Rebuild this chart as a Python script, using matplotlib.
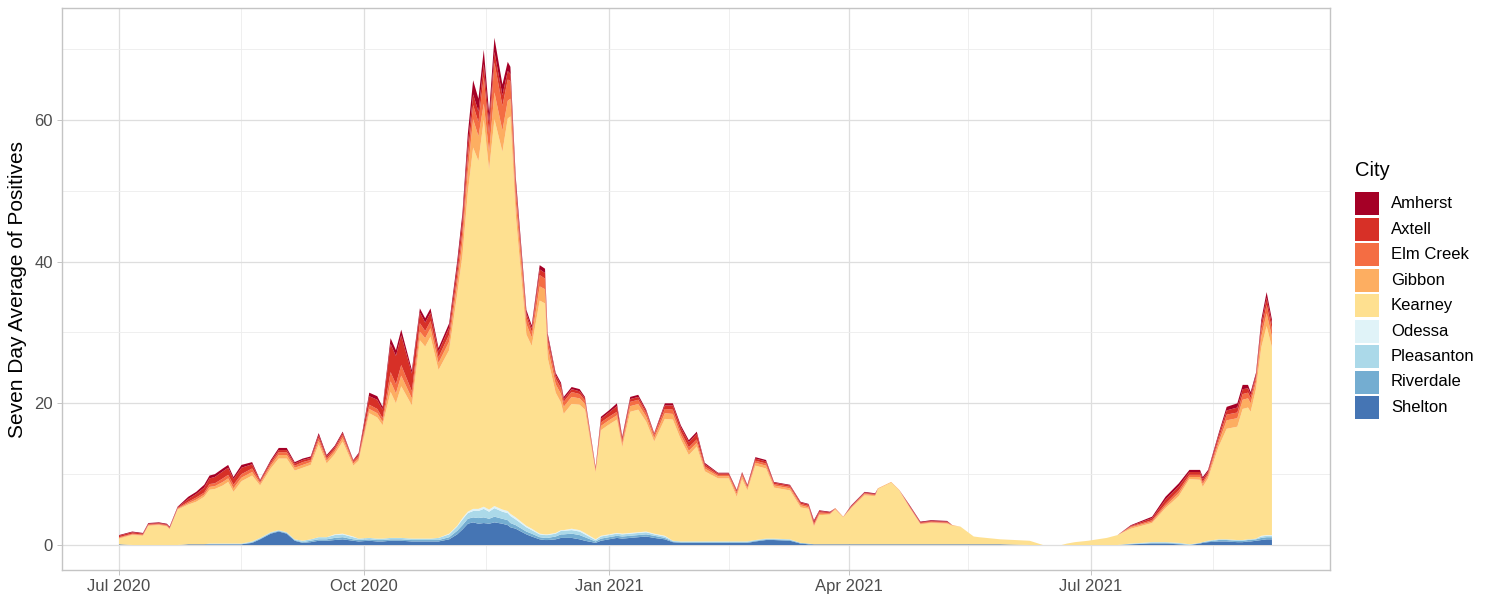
import numpy as np
import pandas as pd
import matplotlib
matplotlib.use("Agg")
import matplotlib.pyplot as plt
import matplotlib.dates as mdates
from matplotlib.patches import Rectangle

plt.rcParams['font.family'] = ['Liberation Sans', 'DejaVu Sans']

# days since 2020-07-01 at which the seven day averages were read
day = [0, 5, 9, 11, 15, 18, 19, 22, 26, 29,
       32, 34, 36, 39, 41, 43, 46, 50, 53, 57,
       60, 63, 66, 69, 72, 75, 78, 81, 84, 88,
       90, 94, 97, 99, 102, 104, 106, 110, 113, 115,
       117, 120, 124, 127, 129, 131, 133, 135, 137, 139,
       141, 144, 146, 147, 149, 153, 155, 158, 160, 161,
       164, 166, 167, 170, 173, 175, 179, 181, 184, 187,
       189, 192, 195, 198, 201, 205, 208, 211, 214, 217,
       220, 225, 229, 232, 234, 236, 239, 243, 246, 252,
       256, 259, 261, 263, 267, 269, 272, 275, 280, 284,
       285, 290, 293, 297, 301, 305, 311, 313, 316, 321,
       323, 331, 342, 347, 354, 356, 359, 364, 371, 375,
       380, 388, 393, 398, 402, 406, 407, 409, 413, 416,
       420, 422, 424, 425, 427, 429, 431, 433]

amherst = [0.1, 0.1, 0.1, 0.1, 0.1, 0.1, 0.1, 0.1, 0.3, 0.3,
           0.4, 0.4, 0.4, 0.4, 0.4, 0.3, 0.4, 0.3, 0.1, 0.2,
           0.3, 0.3, 0.2, 0.2, 0.2, 0.3, 0.2, 0.2, 0.2, 0.1,
           0.2, 0.5, 0.5, 0.4, 0.8, 0.8, 0.8, 0.5, 0.6, 0.6,
           0.6, 0.5, 0.6, 0.8, 1.0, 1.5, 2.0, 1.8, 2.0, 1.5,
           2.0, 1.5, 1.3, 1.0, 0.8, 0.5, 0.4, 0.6, 0.6, 0.4,
           0.3, 0.3, 0.3, 0.3, 0.3, 0.2, 0.1, 0.3, 0.3, 0.4,
           0.2, 0.3, 0.3, 0.2, 0.1, 0.3, 0.3, 0.3, 0.3, 0.3,
           0.2, 0.1, 0.1, 0.1, 0.1, 0.1, 0.2, 0.2, 0.1, 0.1,
           0.1, 0.1, 0.2, 0.1, 0.1, 0, 0, 0.1, 0.1, 0.1,
           0, 0, 0, 0.1, 0.1, 0.1, 0.1, 0, 0, 0,
           0, 0, 0, 0, 0, 0, 0, 0, 0, 0,
           0.1, 0.2, 0.4, 0.4, 0.3, 0.3, 0.3, 0.2, 0.3, 0.5,
           0.6, 0.6, 0.5, 0.4, 0.3, 0.6, 0.8, 0.6]

axtell = [0.2, 0.2, 0.1, 0.1, 0.1, 0.1, 0.1, 0.1, 0.4, 0.5,
          0.7, 0.8, 0.9, 1.0, 1.0, 0.8, 0.9, 0.6, 0.2, 0.3,
          0.3, 0.3, 0.3, 0.3, 0.3, 0.4, 0.3, 0.3, 0.3, 0.2,
          0.3, 1.2, 1.3, 1.2, 4.0, 4.0, 4.2, 2.5, 1.5, 1.2,
          1.2, 0.8, 1.0, 1.2, 1.5, 1.8, 1.5, 1.5, 1.8, 1.5,
          1.5, 1.5, 1.2, 1.0, 0.8, 0.5, 0.5, 0.8, 0.8, 0.6,
          0.5, 0.5, 0.4, 0.4, 0.4, 0.3, 0.2, 0.5, 0.6, 0.8,
          0.4, 0.4, 0.4, 0.3, 0.2, 0.5, 0.6, 0.6, 0.7, 0.8,
          0.3, 0.2, 0.2, 0.2, 0.2, 0.2, 0.3, 0.3, 0.2, 0.2,
          0.2, 0.2, 0.3, 0.2, 0.1, 0, 0, 0.1, 0.1, 0.1,
          0, 0, 0, 0.1, 0.1, 0.1, 0.1, 0, 0, 0,
          0, 0, 0, 0, 0, 0, 0, 0, 0, 0,
          0.1, 0.3, 0.6, 0.6, 0.4, 0.4, 0.4, 0.3, 0.5, 0.6,
          0.7, 0.7, 0.6, 0.5, 0.4, 0.8, 1.0, 0.8]

elm_creek = [0.1, 0.1, 0.1, 0.1, 0.1, 0.1, 0.1, 0.1, 0.2, 0.3,
             0.3, 0.4, 0.4, 0.5, 0.5, 0.5, 0.5, 0.5, 0.2, 0.3,
             0.4, 0.4, 0.3, 0.4, 0.3, 0.4, 0.3, 0.3, 0.4, 0.2,
             0.3, 0.6, 0.6, 0.5, 1.3, 1.3, 1.5, 1.0, 1.2, 1.0,
             1.0, 0.8, 1.0, 1.2, 1.5, 2.0, 2.0, 2.0, 3.8, 2.5,
             4.2, 3.5, 3.0, 2.5, 1.8, 1.0, 0.8, 1.6, 1.5, 1.0,
             0.8, 0.8, 0.7, 0.7, 0.6, 0.5, 0.2, 0.5, 0.5, 0.5,
             0.4, 0.6, 0.6, 0.5, 0.4, 0.6, 0.6, 0.5, 0.5, 0.5,
             0.3, 0.2, 0.2, 0.3, 0.3, 0.2, 0.3, 0.3, 0.2, 0.2,
             0.2, 0.2, 0.2, 0.2, 0.1, 0.1, 0, 0.1, 0.1, 0.1,
             0, 0, 0, 0.1, 0.1, 0.1, 0.1, 0, 0, 0,
             0, 0, 0, 0, 0, 0, 0, 0, 0, 0,
             0.1, 0.2, 0.3, 0.4, 0.3, 0.3, 0.3, 0.3, 0.5, 0.8,
             0.8, 0.8, 0.8, 0.7, 0.6, 1.0, 1.2, 1.0]

gibbon = [0.1, 0.1, 0.1, 0.1, 0.1, 0.1, 0.1, 0.1, 0.2, 0.3,
          0.3, 0.4, 0.4, 0.5, 0.5, 0.5, 0.5, 0.5, 0.3, 0.4,
          0.5, 0.5, 0.4, 0.4, 0.4, 0.5, 0.4, 0.4, 0.5, 0.3,
          0.3, 0.6, 0.6, 0.5, 1.5, 1.4, 1.5, 1.0, 1.2, 1.2,
          1.2, 1.0, 1.2, 1.5, 2.0, 3.0, 4.0, 3.5, 2.3, 2.5,
          3.8, 3.0, 2.5, 2.5, 2.0, 1.5, 1.2, 2.0, 2.0, 1.5,
          1.2, 1.2, 1.0, 1.0, 0.9, 0.8, 0.3, 0.6, 0.6, 0.6,
          0.5, 0.8, 0.8, 0.7, 0.5, 0.8, 0.8, 0.6, 0.6, 0.5,
          0.4, 0.3, 0.3, 0.4, 0.4, 0.3, 0.4, 0.4, 0.3, 0.3,
          0.3, 0.2, 0.2, 0.2, 0.1, 0.1, 0.1, 0.1, 0.2, 0.1,
          0.1, 0.1, 0.1, 0.1, 0.1, 0.1, 0.1, 0.1, 0, 0,
          0, 0, 0, 0, 0, 0, 0, 0, 0, 0,
          0.2, 0.2, 0.3, 0.4, 0.3, 0.4, 0.4, 0.4, 0.6, 1.2,
          1.2, 1.3, 1.3, 1.2, 1.0, 1.5, 1.8, 1.5]

kearney = [0.8, 1.4, 1.3, 2.7, 2.8, 2.6, 2.2, 5.0, 5.6, 6.0,
           6.7, 7.6, 7.7, 8.2, 8.7, 7.3, 8.8, 9.3, 7.4, 9.0,
           10.1, 10.4, 9.7, 10.3, 10.5, 13.1, 10.4, 11.3, 13.0, 10.0,
           11.0, 17.6, 17.1, 16.0, 20.6, 19.0, 21.4, 18.8, 28.0, 27.1,
           28.5, 23.7, 25.9, 32.6, 37.1, 45.0, 51.0, 49.1, 54.6, 48.0,
           54.6, 50.5, 55.4, 56.1, 42.7, 27.0, 25.8, 32.9, 32.6, 24.9,
           19.8, 18.0, 16.4, 17.6, 17.7, 17.4, 9.4, 14.9, 15.5, 16.0,
           12.2, 17.1, 17.3, 15.5, 13.0, 16.5, 17.1, 14.4, 12.2, 13.4,
           9.9, 8.9, 8.9, 6.3, 8.8, 7.2, 10.5, 9.9, 7.2, 6.9,
           5.0, 4.9, 2.5, 4.1, 4.2, 4.9, 3.8, 5.1, 6.9, 6.8,
           7.8, 8.7, 7.6, 5.1, 2.8, 3.0, 2.9, 2.6, 2.5, 1.1,
           1.0, 0.7, 0.6, 0, 0, 0.2, 0.4, 0.6, 1.0, 1.4,
           2.1, 2.7, 4.8, 6.6, 9.2, 8.9, 7.8, 8.8, 13.1, 15.6,
           16.0, 18.5, 18.6, 18.0, 21.1, 26.6, 29.5, 26.5]

odessa = [0] * 20 + \
         [0, 0, 0, 0, 0, 0, 0, 0.1, 0.1, 0.1,
          0, 0, 0, 0, 0, 0, 0, 0, 0, 0,
          0, 0, 0.1, 0.1, 0.2, 0.2, 0.3, 0.3, 0.3, 0.3,
          0.3, 0.3, 0.3, 0.3, 0.3, 0.2, 0.2, 0.1, 0.1, 0.1,
          0.1, 0.1, 0.1, 0.2, 0.2, 0.2, 0.1, 0.1, 0.1, 0.1,
          0.1, 0.1, 0.1, 0.1, 0.1, 0.1, 0, 0, 0, 0] + \
         [0] * 50 + [0, 0, 0, 0, 0, 0.1, 0.1, 0.1]

pleasanton = [0, 0, 0, 0, 0, 0, 0, 0, 0, 0,
              0, 0.1, 0.1, 0.1, 0.1, 0.1, 0.1, 0.1, 0.1, 0.1,
              0.1, 0.1, 0.1, 0.2, 0.2, 0.3, 0.3, 0.4, 0.4, 0.3,
              0.2, 0.2, 0.2, 0.2, 0.2, 0.2, 0.2, 0.2, 0.2, 0.2,
              0.2, 0.3, 0.4, 0.6, 0.8, 0.8, 0.9, 1.0, 1.2, 1.0,
              1.2, 1.0, 1.0, 1.0, 0.8, 0.6, 0.5, 0.4, 0.4, 0.4,
              0.4, 0.5, 0.5, 0.5, 0.5, 0.4, 0.2, 0.3, 0.3, 0.3,
              0.3, 0.3, 0.3, 0.3, 0.2, 0.2, 0.1, 0.1, 0.1, 0.1,
              0.1, 0.1, 0.1, 0.1, 0.1, 0.1, 0.1, 0.1, 0.1, 0.1] + \
             [0] * 30 + \
             [0.1, 0.1, 0.1, 0.1, 0.1, 0, 0, 0.1, 0.1, 0.1,
              0.1, 0.1, 0.1, 0.1, 0.1, 0.2, 0.2, 0.2]

riverdale = [0, 0, 0, 0, 0, 0, 0, 0, 0, 0,
             0, 0, 0, 0, 0, 0, 0, 0.1, 0.1, 0.1,
             0.1, 0.1, 0.1, 0.1, 0.2, 0.2, 0.2, 0.3, 0.3, 0.2,
             0.2, 0.2, 0.2, 0.2, 0.2, 0.2, 0.2, 0.2, 0.2, 0.2,
             0.2, 0.2, 0.3, 0.5, 0.6, 0.7, 0.7, 0.8, 0.8, 0.7,
             0.8, 0.7, 0.7, 0.6, 0.5, 0.4, 0.4, 0.3, 0.3, 0.3,
             0.4, 0.5, 0.5, 0.6, 0.6, 0.5, 0.2, 0.3, 0.3, 0.3,
             0.3, 0.3, 0.3, 0.3, 0.3, 0.2, 0.1, 0.1, 0.1, 0.1,
             0.1, 0.1, 0.1, 0.1, 0.1, 0.1, 0.1, 0.1, 0.1, 0.1,
             0.1, 0.1, 0, 0, 0, 0, 0, 0, 0, 0] + \
            [0] * 20 + \
            [0, 0.1, 0.1, 0.1, 0, 0.1, 0.1, 0.1, 0.2, 0.2,
             0.2, 0.2, 0.2, 0.2, 0.2, 0.3, 0.3, 0.3]

shelton = [0.1, 0, 0, 0, 0, 0, 0, 0, 0.1, 0.1,
           0.1, 0.1, 0.1, 0.1, 0.1, 0.1, 0.1, 0.3, 0.8, 1.6,
           1.9, 1.6, 0.6, 0.3, 0.4, 0.6, 0.6, 0.7, 0.8, 0.6,
           0.5, 0.6, 0.5, 0.5, 0.6, 0.6, 0.6, 0.5, 0.5, 0.5,
           0.5, 0.5, 0.8, 1.5, 2.2, 3.0, 3.2, 3.0, 3.1, 3.0,
           3.2, 3.0, 2.8, 2.5, 2.3, 1.5, 1.2, 0.8, 0.7, 0.7,
           0.8, 1.0, 1.0, 1.0, 0.8, 0.6, 0.3, 0.6, 0.8, 1.0,
           0.9, 1.0, 1.1, 1.2, 1.0, 0.8, 0.4, 0.3, 0.3, 0.3,
           0.3, 0.3, 0.3, 0.3, 0.3, 0.3, 0.5, 0.7, 0.7, 0.6,
           0.2, 0.1, 0.1, 0.1, 0.1, 0.1, 0.1, 0.1, 0.1, 0.1,
           0.1, 0.1, 0.1, 0.1, 0.1, 0.1, 0.1, 0.1, 0.1, 0.1,
           0.1, 0.1, 0, 0, 0, 0, 0, 0, 0, 0,
           0.1, 0.2, 0.2, 0.1, 0, 0.2, 0.3, 0.4, 0.5, 0.5,
           0.4, 0.4, 0.5, 0.5, 0.6, 0.7, 0.8, 0.8]

cities = ['Amherst', 'Axtell', 'Elm Creek', 'Gibbon', 'Kearney',
          'Odessa', 'Pleasanton', 'Riverdale', 'Shelton']
colors = ['#A50026', '#D73027', '#F46D43', '#FDAE61', '#FEE090',
          '#E0F3F8', '#ABD9E9', '#74ADD1', '#4575B4']

start = pd.Timestamp('2020-07-01')
dates = start + pd.to_timedelta(day, unit='D')
series = [amherst, axtell, elm_creek, gibbon, kearney,
          odessa, pleasanton, riverdale, shelton]

W, H = 1490, 594
fig = plt.figure(figsize=(W / 100, H / 100), dpi=100)
ax = fig.add_axes([62 / W, 24 / H, 1268 / W, 562 / H])

# ggplot stacks the first level on top, so draw from the bottom up
ax.stackplot(dates, *[np.array(s) for s in series[::-1]],
             colors=colors[::-1], linewidth=0)

ax.set_xlim(start - pd.Timedelta(days=21.4), start + pd.Timedelta(days=454.8))
ax.set_ylim(-3.53, 75.8)

ax.set_yticks([0, 20, 40, 60])
ax.set_yticks([10, 30, 50, 70], minor=True)
major_x = pd.to_datetime(['2020-07-01', '2020-10-01', '2021-01-01', '2021-04-01', '2021-07-01'])
minor_x = pd.to_datetime(['2020-08-16', '2020-11-16', '2021-02-15', '2021-05-16', '2021-08-16'])
ax.set_xticks(major_x)
ax.set_xticks(minor_x, minor=True)
ax.xaxis.set_major_formatter(mdates.DateFormatter('%b %Y'))

ax.grid(True, which='major', color='#DEDEDE', linewidth=0.9)
ax.grid(True, which='minor', color='#EDEDED', linewidth=0.6)
ax.set_axisbelow(True)
for sp in ax.spines.values():
    sp.set_color('#C4C4C4')
    sp.set_linewidth(1.0)

ax.tick_params(which='major', length=3.5, width=0.7, color='#C4C4C4',
               labelsize=12, labelcolor='#4D4D4D', pad=3)
ax.tick_params(which='minor', length=0)

ax.set_ylabel('Seven Day Average of Positives', fontsize=15, labelpad=5)

# legend drawn by hand, in pixel positions of the figure
fig.text(1355 / W, 1 - 171 / H, 'City', fontsize=14.5, ha='left', va='center')
for i, (name, c) in enumerate(zip(cities, colors)):
    top = 192 + i * 25.5
    fig.add_artist(Rectangle((1355 / W, 1 - (top + 23) / H), 24 / W, 23 / H,
                             transform=fig.transFigure, facecolor=c,
                             edgecolor='none'))
    fig.text(1391 / W, 1 - (top + 11.5) / H, name, fontsize=12,
             ha='left', va='center')

fig.savefig('out.png', dpi=100)
